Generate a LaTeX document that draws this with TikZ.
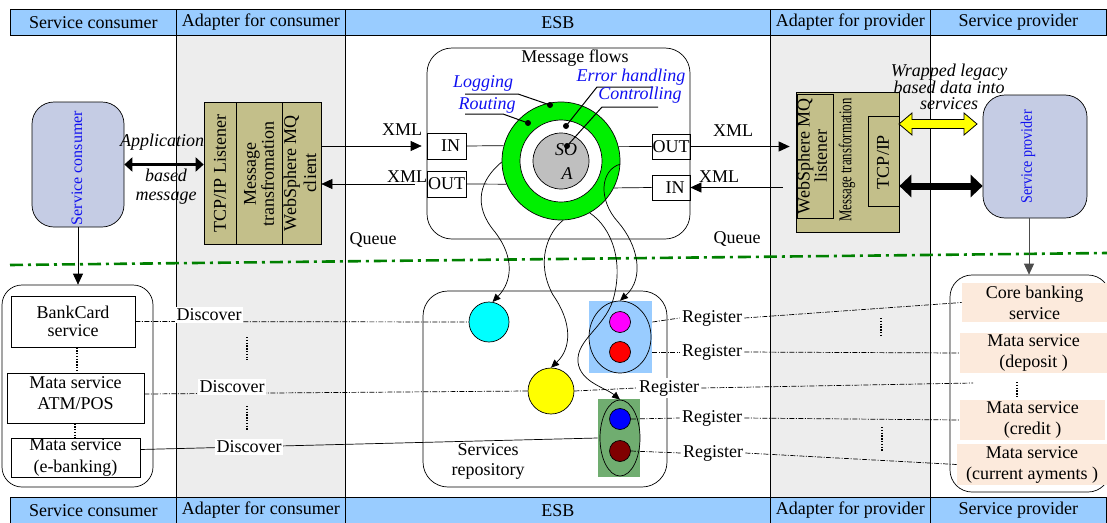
\documentclass[tikz,border=0pt]{standalone}
\usepackage{fontspec}
\usepackage{graphicx}
\setmainfont{Liberation Serif}
\usetikzlibrary{arrows.meta,shapes.geometric,calc}
\definecolor{hdrblue}{HTML}{99CCFF}
\definecolor{colgray}{HTML}{EDEDED}
\definecolor{svcfill}{HTML}{C5CCE4}
\definecolor{khaki}{HTML}{C3BF8A}
\definecolor{ringgreen}{HTML}{00F000}
\definecolor{lbfill}{HTML}{99CCFF}
\definecolor{gfill}{HTML}{70AD70}
\definecolor{peach}{HTML}{FCEADC}
\definecolor{dkgreen}{HTML}{008000}
\definecolor{lblue}{HTML}{1010F0}
\definecolor{dredc}{HTML}{800000}
\definecolor{cyanc}{HTML}{00FFFF}
\definecolor{magc}{HTML}{FF00FF}
\definecolor{yelc}{HTML}{FFFF00}
\definecolor{redcc}{HTML}{FF0000}
\definecolor{bluc}{HTML}{0000FF}
\begin{document}
\begin{tikzpicture}[x=1pt,y=-1pt,font=\fontsize{18}{18}\selectfont,line width=0.7pt,
 hdr/.style={draw, fill=hdrblue, minimum height=26pt, inner sep=0pt, anchor=north west},
 box/.style={draw, inner sep=0pt},
 lbl/.style={inner sep=0pt},
 blab/.style={text=lblue, font=\fontsize{18}{18}\selectfont\itshape, inner sep=0pt},
 ptr/.style={line width=1pt},
 dotm/.style={fill=black, circle, inner sep=0pt, minimum size=6pt},
 arr/.style={-{Triangle[length=11pt,width=10pt]}, line width=0.7pt},
 carr/.style={-{Triangle[length=8pt,width=7pt]}, line width=0.7pt},
 dd/.style={line width=0.7pt, dash pattern=on 5pt off 1.5pt on 1pt off 1.5pt},
 vdots/.style={line width=1.8pt, dash pattern=on 1.4pt off 1.4pt},
 tag/.style={fill=white, inner sep=2pt},
 circ/.style={circle, draw, inner sep=0pt},
 peachbox/.style={fill=peach, inner sep=0pt, align=center, font=\fontsize{18}{21}\selectfont}]
\useasboundingbox (0,0) rectangle (1107,522);

% columns
\fill[colgray] (176,35) rectangle (345,497);
\fill[colgray] (770,35) rectangle (930,497);
\foreach \x in {176,345,770,930} \draw (\x,35) -- (\x,497);

% separator
\draw[dkgreen, line width=2.6pt, dash pattern=on 13pt off 5pt on 3pt off 5pt] (10,265) -- (1107,253);

% headers
\node[hdr, minimum width=166pt] (ht1) at (10,9) {Service consumer};
\node[hdr, minimum width=169pt] (ht2) at (176,9) {Adapter for consumer};
\node[hdr, minimum width=425pt] (ht3) at (345,9) {ESB};
\node[hdr, minimum width=160pt] (ht4) at (770,9) {Adapter for provider};
\node[hdr, minimum width=176pt] (ht5) at (930,9) {Service provider};
\node[hdr, minimum width=166pt] (hb1) at (10,497) {Service consumer};
\node[hdr, minimum width=169pt] (hb2) at (176,497) {Adapter for consumer};
\node[hdr, minimum width=425pt] (hb3) at (345,497) {ESB};
\node[hdr, minimum width=160pt] (hb4) at (770,497) {Adapter for provider};
\node[hdr, minimum width=176pt] (hb5) at (930,497) {Service provider};

% service consumer
\node[draw, fill=svcfill, rounded corners=22pt, minimum width=92pt, minimum height=125pt, inner sep=0pt] (sc) at (78,164.5) {};
\node[lbl, rotate=90, text=lblue, font=\fontsize{16}{16}\selectfont] (sct) at (77,168) {Service consumer};

% consumer adapter
\node[box, fill=khaki, minimum width=32pt, minimum height=142pt] (ca1) at (220,173) {};
\node[box, fill=khaki, minimum width=46pt, minimum height=142pt] (ca2) at (259,173) {};
\node[box, fill=khaki, minimum width=39pt, minimum height=142pt] (ca3) at (301.5,173) {};
\node[lbl, rotate=90] (ca1t) at (220,173.5) {TCP/IP Listener};
\node[lbl, rotate=90, align=center] (ca2t) at (259,174) {Message\\transfromation};
\node[lbl, rotate=90, align=center, font=\fontsize{18}{20}\selectfont] (ca3t) at (300,173) {WebSphere MQ\\client};

\draw[line width=3.5pt, {Triangle[length=8pt,width=14pt]}-{Triangle[length=8pt,width=14pt]}] (sc.east) -- (ca1.west |- sc.east);
\node[lbl, font=\fontsize{18}{18}\selectfont\itshape] (app1) at (162,142) {Application};
\node[lbl, font=\fontsize{18}{18}\selectfont\itshape] (app2) at (166,175) {based};
\node[lbl, font=\fontsize{18}{18}\selectfont\itshape] (app3) at (166,198) {message};

% ESB message flows
\node[draw, rounded corners=25pt, minimum width=263pt, minimum height=191pt, inner sep=0pt] (mf) at (558.5,143.5) {};
\node[lbl] (mft) at (575,58) {Message flows};
\node[circ, fill=ringgreen, minimum size=118pt] (ring) at (561,161) {};
\node[circ, fill=white, minimum size=82pt] (ringin) at (561,161) {};
\node[circ, fill=gray!50, minimum size=56pt] (soa) at (561,161) {};
\node[lbl, font=\fontsize{18}{18}\selectfont\itshape] (soa1) at (566,150) {SO};
\node[lbl, font=\fontsize{18}{18}\selectfont\itshape] (soa2) at (567,174) {A};

\node[box, minimum width=39pt, minimum height=26pt] (inL) at (446.5,146) {\hspace{8pt}IN};
\node[box, minimum width=39pt, minimum height=26pt] (outL) at (446.5,184) {OUT};
\node[box, minimum width=38pt, minimum height=25pt] (outR) at (671,146.5) {OUT};
\node[box, minimum width=38pt, minimum height=25pt] (inR) at (671,187.5) {\hspace{8pt}IN};

\draw (inL.east) -- (ring.165);
\draw (outL.east) -- (ring.203);
\draw (ring.14) -- (outR.west);
\draw (inR.west) -- (ring.-27);

\draw[arr, shorten >=5pt] (ca3.east |- inL.west) -- (inL.west);
\draw[arr, shorten <=12pt] (outL.west) -- (ca3.east |- outL.west);
\node[lbl] (x1) at (402,130) {XML};
\node[lbl] (x2) at (407,177) {XML};

% pointers
\node[dotm] (dlog) at (550,105) {};
\node[dotm] (drou) at (528,123) {};
\node[dotm] (derr) at (566,126) {};
\node[dotm] (dcon) at (567,146) {};
\draw[ptr] (465,94) -- (518,94) -- (dlog.center);
\draw[ptr] (465,114) -- (503,114) -- (drou.center);
\draw[ptr] (derr.center) -- (597,87) -- (653,87);
\draw[ptr] (dcon.center) -- (602,107) -- (658,107);
\node[blab] (llog) at (483,83) {Logging};
\node[blab] (lrou) at (487,105) {Routing};
\node[blab] (lerr) at (631,77) {Error handling};
\node[blab] (lcon) at (640,95) {Controlling};

% provider adapter
\node[box, fill=khaki, minimum width=103pt, minimum height=140pt] (pa) at (847.5,162) {};
\node[box, fill=khaki, minimum width=36pt, minimum height=124pt] (pa1) at (815,156) {};
\node[box, fill=khaki, minimum width=31pt, minimum height=90pt] (pa3) at (883.5,161) {};
\node[lbl, rotate=90, align=center, font=\fontsize{18}{16}\selectfont] (pa1t) at (812,156) {WebSphere MQ\\listener};
\node[lbl, rotate=90] (pa2t) at (847,160) {\scalebox{0.71}[1]{Message transformation}};
\node[lbl, rotate=90] (pa3t) at (883,162) {TCP/IP};

\draw[arr, shorten >=6pt] (outR.east) -- (pa.west |- outR.east);
\draw[arr, shorten <=13pt] (pa.west |- inR.east) -- (inR.east);
\node[lbl] (x3) at (733,131) {XML};
\node[lbl] (x4) at (719,177) {XML};
\node[lbl] (q1) at (373,240) {Queue};
\node[lbl] (q2) at (737,239) {Queue};

% service provider
\node[draw, fill=svcfill, rounded corners=22pt, minimum width=104pt, minimum height=123pt, inner sep=0pt] (sp) at (1035,156.5) {};
\node[lbl, rotate=90, text=lblue] (spt) at (1028,157) {\fontsize{16}{16}\selectfont\scalebox{0.88}[1]{Service provider}};

\node[lbl, align=center, font=\fontsize{18}{16}\selectfont\itshape] (wt) at (949,87) {Wrapped legacy\\based data into\\services};
\coordinate (yb) at (0,186);
\draw[line width=7pt, {Triangle[length=12pt,width=22pt]}-{Triangle[length=12pt,width=22pt]}] (pa.east |- yb) -- (sp.west |- yb);
\draw[fill=yelc, line width=0.8pt] (899,124) -- (912,113) -- (912,119.5) -- (964,119.5) -- (964,113) -- (977,124) -- (964,135) -- (964,128.5) -- (912,128.5) -- (912,135) -- cycle;

% repository
\node[draw, rounded corners=25pt, minimum width=244pt, minimum height=196pt, inner sep=0pt] (repo) at (545,389) {};
\node[circ, fill=cyanc, minimum size=40pt] (cy) at (489,322) {};
\node[circ, fill=yelc, minimum size=46pt] (yel) at (551,391) {};
\node[fill=lbfill, minimum width=63pt, minimum height=72pt, inner sep=0pt] (lbrect) at (620.5,337) {};
\node[draw, ellipse, minimum width=62pt, minimum height=72pt, inner sep=0pt] (lbell) at (620,337) {};
\node[circ, fill=magc, minimum size=21pt] (mag) at (620,322) {};
\node[circ, fill=redcc, minimum size=21pt] (redc) at (620,352) {};
\node[fill=gfill, minimum width=42pt, minimum height=78pt, inner sep=0pt] (grect) at (619,438) {};
\node[draw, ellipse, minimum width=40pt, minimum height=76pt, inner sep=0pt] (gell) at (620,438) {};
\node[circ, fill=bluc, minimum size=21pt] (blu) at (620,419) {};
\node[circ, fill=dredc, minimum size=21pt] (drc) at (620,451) {};
\node[lbl, align=center, font=\fontsize{18}{20}\selectfont] (srt) at (488,461) {Services\\repository};

% curves
\draw[carr] (ring.181) .. controls (480,180) and (472,205) .. (495,232) .. controls (515,258) and (512,282) .. (cy.80);
\draw[carr] (ring.272) .. controls (548,232) and (535,262) .. (553,295) .. controls (572,322) and (572,348) .. (yel.north);
\draw[carr] (ring.-61) .. controls (612,228) and (624,262) .. (613,300) .. controls (604,328) and (576,340) .. (578,362) .. controls (580,382) and (606,388) .. (gell.north);
\draw[carr] (ring.-3) .. controls (600,170) and (598,200) .. (618,222) .. controls (638,245) and (645,278) .. (lbell.north);

% consumer services
\node[draw, rounded corners=20pt, minimum width=151pt, minimum height=202pt, inner sep=0pt] (cbox) at (77.5,386) {};
\node[box, minimum width=124pt, minimum height=51pt, align=center, font=\fontsize{18}{17.5}\selectfont] (bc) at (73,321.5) {BankCard\\service};
\node[box, minimum width=137pt, minimum height=50pt] (atm) at (75.5,398) {};
\node[lbl, align=center, font=\fontsize{18}{21}\selectfont] (atmt) at (75.5,393) {Mata service\\ATM/POS};
\node[box, minimum width=129pt, minimum height=39pt, align=center, font=\fontsize{18}{22}\selectfont] (eb) at (75.5,457.5) {Mata service\\(e-banking)};
\draw[arr] (sc.south) -- (sc.south |- cbox.north);
\draw[vdots] (bc.south -| 77,0) -- (atm.north -| 77,0);
\draw[vdots] (atm.south -| 75,0) -- (eb.north -| 75,0);

\draw[dd] (bc.east) -- (cy.west);
\draw[dd] ($(atm.east)+(0,-4)$) -- (yel.west);
\draw ($(eb.east)+(0,-8)$) -- (grect.west);
\node[tag] (d1) at (209,315) {Discover};
\node[tag] (d2) at (232,387) {Discover};
\node[tag] (d3) at (249,447) {Discover};
\draw[vdots] (247,337) -- (247,360);
\draw[vdots] (247,406) -- (247,431);

% provider services
\node[draw, rounded corners=22pt, minimum width=160pt, minimum height=217pt, inner sep=0pt] (pbox) at (1030,383.5) {};
\node[peachbox, minimum width=145pt, minimum height=39pt] (core) at (1034.5,302.5) {Core banking\\service};
\node[peachbox, minimum width=147pt, minimum height=40pt] (dep) at (1033.5,353) {Mata service\\(deposit )};
\node[peachbox, minimum width=145pt, minimum height=40pt] (cred) at (1032.5,420) {Mata service\\(credit )};
\node[peachbox, minimum width=150pt, minimum height=41pt] (curr) at (1032,464.5) {Mata service\\(current ayments )};
\coordinate (spb) at ($(sp.south)+(-6,0)$);
\draw[arr, draw=gray!60!black] (spb) -- (spb |- pbox.north);

\node[tag] (r1) at (712,318) {Register};
\node[tag] (r2) at (712,352) {Register};
\node[tag] (r3) at (669,388) {Register};
\node[tag] (r4) at (712,418) {Register};
\node[tag] (r5) at (713,453) {Register};
\coordinate (r3end) at (973,383);
\draw[dd] (lbrect.east |- mag) -- (r1.west);
\draw[dd] (r1.east) -- (core.west);
\draw[dd] (lbrect.east |- redc) -- (r2.west);
\draw[dd] (r2.east) -- (dep.west);
\draw[dd] (yel.east) -- (r3.west);
\draw[dd] (r3.east) -- (r3end);
\draw[dd] (blu.east) -- (r4.west);
\draw[dd] (r4.east) -- (cred.west);
\draw[dd] (drc.east) -- (r5.west);
\draw[dd] (r5.east) -- (curr.west);
\draw[vdots] (881,318) -- (881,335);
\draw[vdots] (882,427) -- (882,452);
\draw[vdots] (1017,382) -- (1017,398);
\end{tikzpicture}
\end{document}
